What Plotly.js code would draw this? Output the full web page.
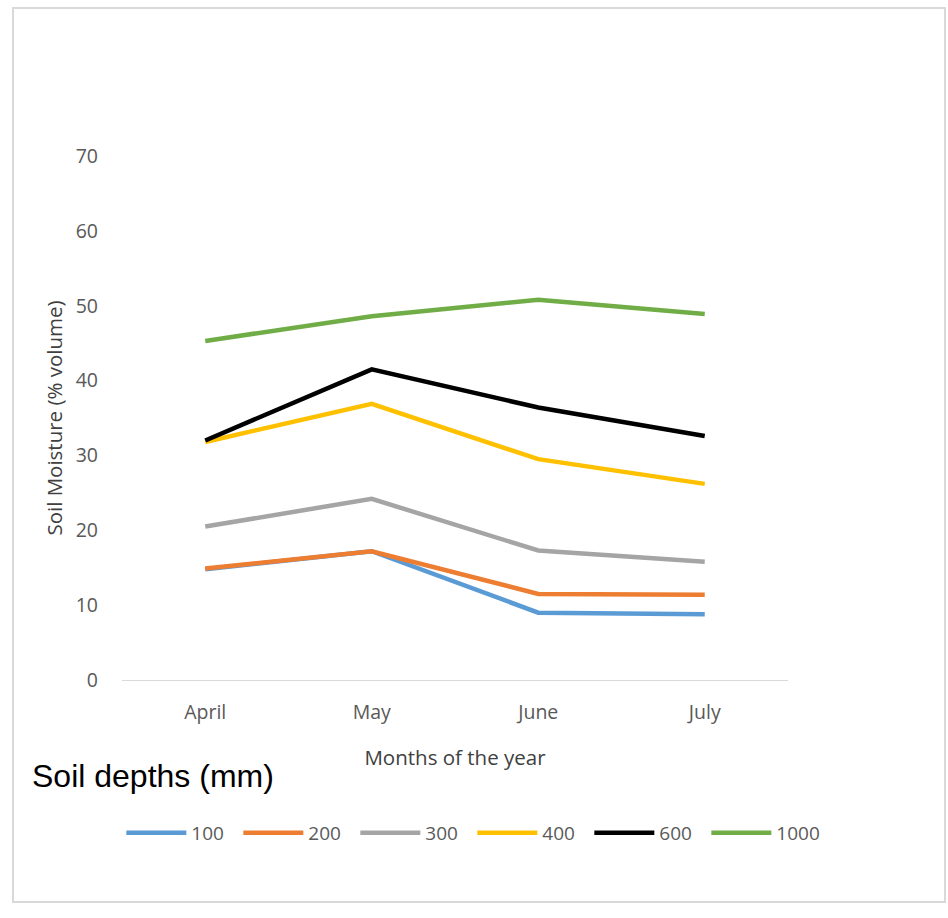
<!DOCTYPE html>
<html>
<head>
<meta charset="utf-8">
<script src="https://cdn.plot.ly/plotly-3.0.1.min.js"></script>
<style>
  html, body { margin: 0; padding: 0; background: #fff; }
  #wrap { position: relative; width: 948px; height: 918px; }
  #chart { width: 948px; height: 918px; }
  #frame { position: absolute; left: 12px; top: 7px; width: 930px; height: 892px;
           border: 2px solid #d9d9d9; pointer-events: none; }
</style>
</head>
<body>
<div id="wrap">
  <div id="chart"></div>
  <div id="frame"></div>
</div>
<script>
const months = ["April", "May", "June", "July"];
const depthNames = ["100", "200", "300", "400", "600", "1000"];
const d100  = [14.8, 17.2, 9.0, 8.8];
const d200  = [14.9, 17.2, 11.5, 11.4];
const d300  = [20.5, 24.2, 17.3, 15.8];
const d400  = [31.8, 36.9, 29.5, 26.2];
const d600  = [32.0, 41.5, 36.4, 32.6];
const d1000 = [45.3, 48.6, 50.8, 48.9];
const seriesValues = [d100, d200, d300, d400, d600, d1000];
const colors = ["#5B9BD5", "#ED7D31", "#A5A5A5", "#FFC000", "#000000", "#70AD47"];

const traces = seriesValues.map((vals, i) => ({
  type: "scatter",
  mode: "lines",
  x: months,
  y: vals,
  name: depthNames[i],
  line: { color: colors[i], width: 4.5 }
}));

const layout = {
  width: 948,
  height: 918,
  margin: { l: 122, r: 160, t: 156, b: 238 },
  paper_bgcolor: "#ffffff",
  plot_bgcolor: "#ffffff",
  font: { family: "Open Sans, sans-serif", color: "#595959" },
  showlegend: true,
  xaxis: {
    type: "category",
    range: [-0.5, 3.5],
    showgrid: false,
    zeroline: false,
    showline: true,
    linecolor: "#d9d9d9",
    linewidth: 1,
    ticks: "",
    ticklabelstandoff: 15,
    tickfont: { size: 19.5, color: "#595959" },
    title: { text: "Months of the year", font: { size: 20.5, color: "#404040" }, standoff: 26 }
  },
  yaxis: {
    range: [0, 70],
    dtick: 10,
    showgrid: false,
    zeroline: false,
    showline: false,
    ticks: "",
    ticklabelstandoff: 23,
    tickfont: { size: 19.5, color: "#595959" },
    title: { text: "Soil Moisture (% volume)", font: { size: 20.5, color: "#404040" }, standoff: 7 }
  },
  legend: {
    orientation: "h",
    x: -0.001,
    xanchor: "left",
    y: -0.292,
    yanchor: "middle",
    font: { size: 19, color: "#595959" },
    itemwidth: 60,
    entrywidth: 42,
    traceorder: "normal"
  },
  annotations: [{
    text: "Soil depths (mm)",
    xref: "paper", yref: "paper",
    x: -0.138, y: -0.184,
    xanchor: "left", yanchor: "middle",
    showarrow: false,
    font: { family: "Liberation Sans, Arial, sans-serif", size: 32, color: "#000000" }
  }]
};

Plotly.newPlot("chart", traces, layout, { displayModeBar: false, staticPlot: true });
</script>
</body>
</html>
